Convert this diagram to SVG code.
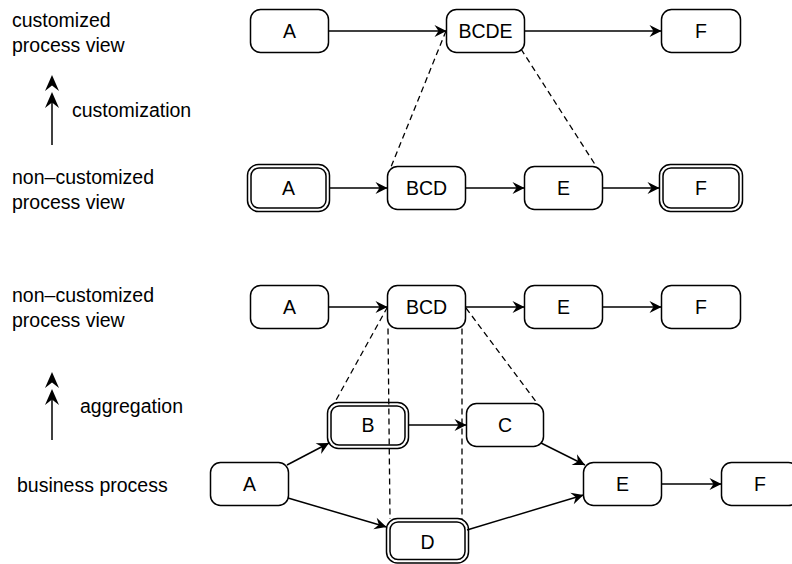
<svg xmlns="http://www.w3.org/2000/svg" width="792" height="564" viewBox="0 0 792 564">
<style>
.box{fill:#fff;stroke:#000;stroke-width:1.5}
.t{font-family:"Liberation Sans",Arial,sans-serif;font-size:19.5px;fill:#000}
.c{text-anchor:middle}
.e{fill:none;stroke:#000;stroke-width:1.5}
.d{fill:none;stroke:#000;stroke-width:1.3;stroke-dasharray:6 4}
.h{fill:#000;stroke:none}
</style>
<defs>
<marker id="ar" markerUnits="userSpaceOnUse" viewBox="-13 -7 14 14" markerWidth="14" markerHeight="14" refX="0" refY="0" orient="auto">
<path d="M0,0 L-12,-6 L-8,0 L-12,6 Z" fill="#000"/>
</marker>
</defs>
<rect width="792" height="564" fill="#fff"/>
<g id="labels" class="t">
<text x="12" y="27">customized</text>
<text x="12" y="52">process view</text>
<text x="72" y="117">customization</text>
<text x="12" y="184">non–customized</text>
<text x="12" y="209">process view</text>
<text x="12" y="302">non–customized</text>
<text x="12" y="327">process view</text>
<text x="80" y="413">aggregation</text>
<text x="17" y="492">business process</text>
</g>
<g id="updown-arrows">
<line class="e" x1="52" y1="145" x2="52" y2="96"/>
<path class="h" d="M52,75 L59,91 L52,85.5 L45,91 Z"/>
<path class="h" d="M52,92 L59,108 L52,102.5 L45,108 Z"/>
<line class="e" x1="52" y1="440" x2="52" y2="394"/>
<path class="h" d="M52,372 L59,388 L52,382.5 L45,388 Z"/>
<path class="h" d="M52,389 L59,405 L52,399.5 L45,405 Z"/>
</g>
<g id="n-A1"><rect class="box" x="250.5" y="9.5" width="78" height="43" rx="10"/><text class="t c" x="289.5" y="38">A</text></g>
<g id="n-BCDE"><rect class="box" x="446.5" y="9.5" width="78" height="43" rx="10"/><text class="t c" x="485.5" y="38">BCDE</text></g>
<g id="n-F1"><rect class="box" x="661.5" y="9.5" width="79" height="43" rx="10"/><text class="t c" x="701" y="38">F</text></g>
<g id="n-A2"><rect class="box" x="247.5" y="164.5" width="82" height="47" rx="11"/><rect class="box" x="251" y="168" width="75" height="40" rx="8"/><text class="t c" x="288.5" y="195">A</text></g>
<g id="n-BCD2"><rect class="box" x="387.5" y="166.5" width="78" height="43" rx="10"/><text class="t c" x="426.5" y="195">BCD</text></g>
<g id="n-E2"><rect class="box" x="524.5" y="166.5" width="78" height="43" rx="10"/><text class="t c" x="563.5" y="195">E</text></g>
<g id="n-F2"><rect class="box" x="659.5" y="164.5" width="83" height="47" rx="11"/><rect class="box" x="663" y="168" width="76" height="40" rx="8"/><text class="t c" x="701" y="195">F</text></g>
<g id="n-A3"><rect class="box" x="250.5" y="285.5" width="78" height="43" rx="10"/><text class="t c" x="289.5" y="314">A</text></g>
<g id="n-BCD3"><rect class="box" x="387.5" y="285.5" width="78" height="43" rx="10"/><text class="t c" x="426.5" y="314">BCD</text></g>
<g id="n-E3"><rect class="box" x="524.5" y="285.5" width="78" height="43" rx="10"/><text class="t c" x="563.5" y="314">E</text></g>
<g id="n-F3"><rect class="box" x="661.5" y="285.5" width="79" height="43" rx="10"/><text class="t c" x="701" y="314">F</text></g>
<g id="n-B"><rect class="box" x="327.5" y="402.5" width="81" height="46" rx="11"/><rect class="box" x="331" y="406" width="74" height="39" rx="8"/><text class="t c" x="368" y="432">B</text></g>
<g id="n-C"><rect class="box" x="466.5" y="403.5" width="77" height="43" rx="10"/><text class="t c" x="505" y="432">C</text></g>
<g id="n-A4"><rect class="box" x="210.5" y="462.5" width="78" height="43" rx="10"/><text class="t c" x="249.5" y="491">A</text></g>
<g id="n-E4"><rect class="box" x="583.5" y="462.5" width="78" height="43" rx="10"/><text class="t c" x="622.5" y="491">E</text></g>
<g id="n-F4"><rect class="box" x="721.5" y="462.5" width="77" height="43" rx="10"/><text class="t c" x="760" y="491">F</text></g>
<g id="n-D"><rect class="box" x="386.5" y="518.5" width="82" height="44.5" rx="11"/><rect class="box" x="390" y="522" width="75" height="37.5" rx="8"/><text class="t c" x="427.5" y="549">D</text></g>
<g id="connectors">
<line class="e" x1="328.5" y1="31" x2="446.5" y2="31" marker-end="url(#ar)"/>
<line class="e" x1="524.5" y1="31" x2="661.5" y2="31" marker-end="url(#ar)"/>
<line class="e" x1="330" y1="188" x2="387.5" y2="188" marker-end="url(#ar)"/>
<line class="e" x1="465.5" y1="188" x2="524.5" y2="188" marker-end="url(#ar)"/>
<line class="e" x1="602.5" y1="188" x2="659.5" y2="188" marker-end="url(#ar)"/>
<line class="e" x1="328.5" y1="307" x2="387.5" y2="307" marker-end="url(#ar)"/>
<line class="e" x1="465.5" y1="307" x2="524.5" y2="307" marker-end="url(#ar)"/>
<line class="e" x1="602.5" y1="307" x2="661.5" y2="307" marker-end="url(#ar)"/>
<line class="e" x1="287" y1="465" x2="329" y2="443" marker-end="url(#ar)"/>
<line class="e" x1="408.5" y1="425" x2="466.5" y2="425" marker-end="url(#ar)"/>
<line class="e" x1="288" y1="498" x2="386.5" y2="527" marker-end="url(#ar)"/>
<line class="e" x1="541" y1="443" x2="585" y2="465" marker-end="url(#ar)"/>
<line class="e" x1="467" y1="530" x2="583.5" y2="495" marker-end="url(#ar)"/>
<line class="e" x1="661.5" y1="484" x2="721.5" y2="484" marker-end="url(#ar)"/>
<line class="d" x1="446" y1="31" x2="391" y2="167"/>
<line class="d" x1="521" y1="49" x2="596" y2="166"/>
<line class="d" x1="387.5" y1="307" x2="335" y2="402"/>
<line class="d" x1="388" y1="328.5" x2="390" y2="519"/>
<line class="d" x1="462" y1="328.5" x2="462" y2="519"/>
<line class="d" x1="466" y1="308" x2="537" y2="403"/>
</g>
</svg>
